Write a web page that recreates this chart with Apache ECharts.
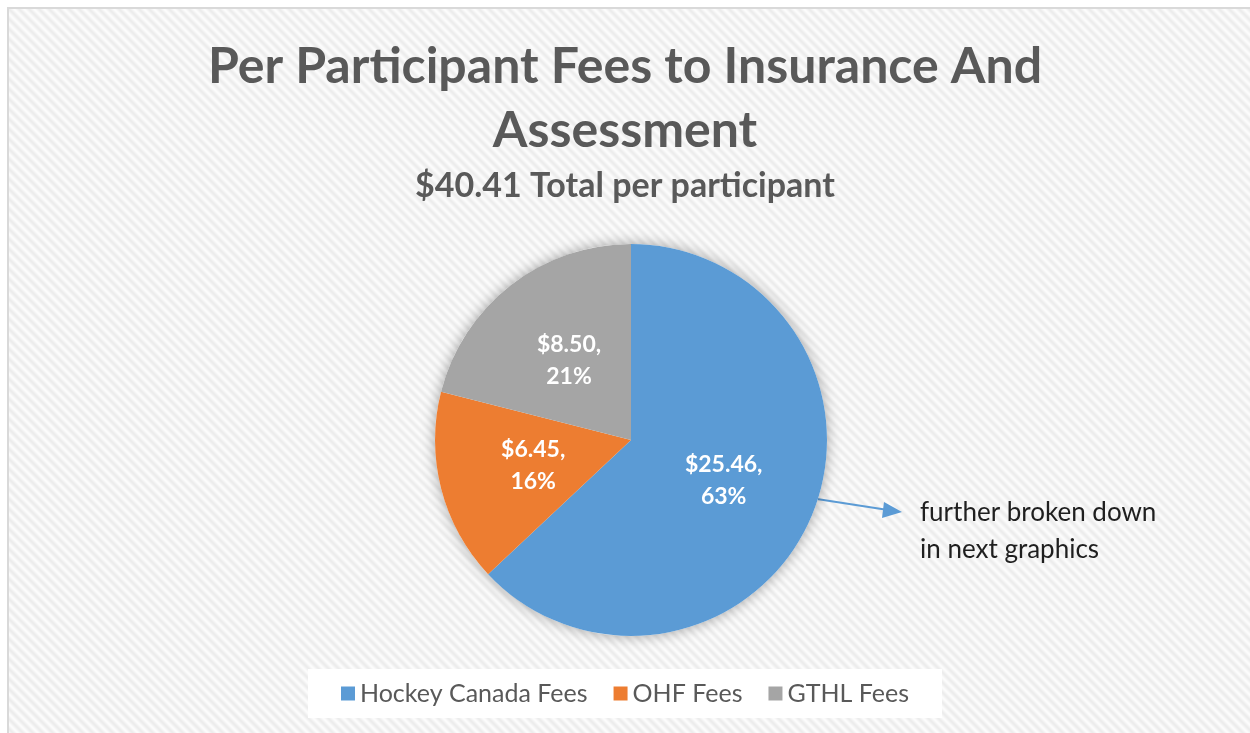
<!DOCTYPE html>
<html>
<head>
<meta charset="utf-8">
<script src="https://cdn.jsdelivr.net/npm/echarts@6/dist/echarts.min.js"></script>
<style>
  html, body { margin: 0; padding: 0; background: #fff; }
  #chart { width: 1250px; height: 733px; }
</style>
</head>
<body>
<div id="chart"></div>
<script>
// data
var categories = ["Hockey Canada Fees", "OHF Fees", "GTHL Fees"];
var fees = [25.46, 6.45, 8.50];
var colors = ["#5B9BD5", "#ED7D31", "#A5A5A5"];
var titleText = "Per Participant Fees to Insurance And\nAssessment";
var subText = "$40.41 Total per participant";
var noteText = "further broken down\nin next graphics";

// diagonal stripe tile for the background
function stripeTile() {
  var size = 10;
  var c = document.createElement("canvas");
  c.width = size;
  c.height = size;
  var ctx = c.getContext("2d");
  var img = ctx.createImageData(size, size);
  for (var y = 0; y < size; y++) {
    for (var x = 0; x < size; x++) {
      var t = 0.5 + 0.5 * Math.cos(2 * Math.PI * (x - y) / size);
      var v = Math.round(252 - 16 * t);
      var k = (y * size + x) * 4;
      img.data[k] = v;
      img.data[k + 1] = v;
      img.data[k + 2] = v;
      img.data[k + 3] = 255;
    }
  }
  ctx.putImageData(img, 0, 0);
  return c;
}

var total = fees.reduce(function (a, b) { return a + b; }, 0);
var pieData = categories.map(function (name, i) {
  return { name: name, value: fees[i], itemStyle: { color: colors[i] } };
});

var chart = echarts.init(document.getElementById("chart"));

var option = {
  animation: false,
  backgroundColor: "#fff",
  color: colors,
  title: {
    text: titleText,
    subtext: subText,
    left: "center",
    top: 35,
    padding: 0,
    itemGap: 6,
    textStyle: {
      fontFamily: "Lato",
      fontWeight: "bold",
      fontSize: 50,
      lineHeight: 64,
      color: "#595959"
    },
    subtextStyle: {
      fontFamily: "Lato",
      fontWeight: "bold",
      fontSize: 34,
      lineHeight: 34,
      color: "#595959"
    }
  },
  legend: {
    data: categories,
    bottom: 15,
    left: "center",
    icon: "rect",
    itemWidth: 14,
    itemHeight: 14,
    itemGap: 26,
    padding: [12, 33],
    backgroundColor: "#ffffff",
    textStyle: {
      fontFamily: "Lato",
      fontSize: 25,
      color: "#595959"
    }
  },
  graphic: [
    {
      type: "rect",
      z: -10,
      silent: true,
      shape: { x: 8, y: 8, width: 1300, height: 800 },
      style: {
        fill: { image: stripeTile(), repeat: "repeat" },
        stroke: "#d9d9d9",
        lineWidth: 2
      }
    },
    {
      type: "line",
      silent: true,
      shape: { x1: 817, y1: 499, x2: 888, y2: 510 },
      style: { stroke: "#5B9BD5", lineWidth: 2 }
    },
    {
      type: "polygon",
      silent: true,
      shape: { points: [[902, 512], [884, 502], [882, 518]] },
      style: { fill: "#5B9BD5" }
    },
    {
      type: "text",
      silent: true,
      left: 920,
      top: 494,
      style: {
        text: noteText,
        fontFamily: "Lato",
        fontSize: 26,
        lineHeight: 37,
        fill: "#1f1f1f"
      }
    }
  ],
  series: [
    {
      // soft shadow behind the pie
      type: "pie",
      silent: true,
      center: [631, 440],
      radius: 196,
      label: { show: false },
      labelLine: { show: false },
      itemStyle: {
        color: "#ffffff",
        shadowBlur: 14,
        shadowColor: "rgba(0,0,0,0.35)"
      },
      data: [{ name: "", value: total }]
    },
    {
      type: "pie",
      center: [631, 440],
      radius: 196,
      startAngle: 90,
      clockwise: true,
      label: {
        show: true,
        position: "inside",
        formatter: function (p) {
          return "$" + p.value.toFixed(2) + ",\n" + Math.round(p.percent) + "%";
        },
        fontFamily: "Lato",
        fontWeight: "bold",
        fontSize: 23,
        lineHeight: 32,
        color: "#ffffff"
      },
      labelLine: { show: false },
      itemStyle: { borderWidth: 0 },
      data: pieData
    }
  ]
};

chart.setOption(option);
</script>
</body>
</html>
